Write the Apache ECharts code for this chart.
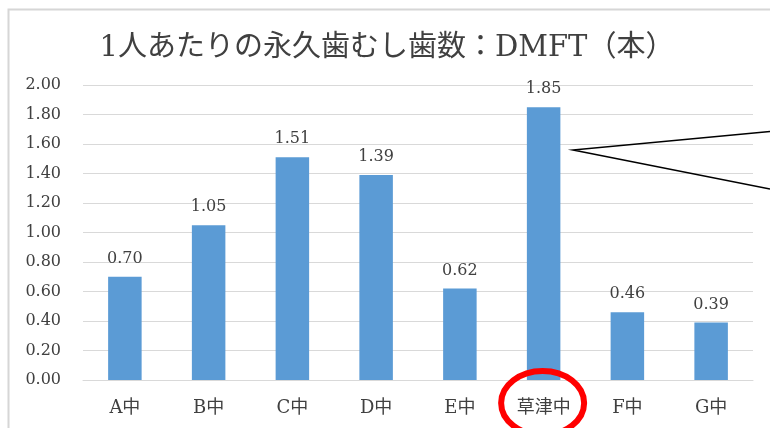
<!DOCTYPE html>
<html>
<head>
<meta charset="utf-8">
<script src="https://cdn.jsdelivr.net/npm/echarts@6/dist/echarts.min.js"></script>
<style>
html,body{margin:0;padding:0;background:#fff;}
#c{width:770px;height:428px;}
</style>
</head>
<body>
<div id="c"></div>
<script>
var titleText = '1人あたりの永久歯むし歯数：DMFT（本）';
var categories = ['A中', 'B中', 'C中', 'D中', 'E中', '草津中', 'F中', 'G中'];
var values = [0.70, 1.05, 1.51, 1.39, 0.62, 1.85, 0.46, 0.39];
var yTicks = [0, 0.2, 0.4, 0.6, 0.8, 1.0, 1.2, 1.4, 1.6, 1.8, 2.0];
var highlightCategory = '草津中';

var serif = "'DejaVu Serif', 'Noto Sans CJK JP', serif";
var chart = echarts.init(document.getElementById('c'), null, {renderer: 'canvas'});

var option = {
  backgroundColor: '#ffffff',
  animation: false,
  title: {
    text: titleText,
    left: 382,
    textAlign: 'center',
    top: 27,
    textStyle: {
      fontFamily: serif,
      fontSize: 29,
      fontWeight: 'normal',
      color: '#404040',
      lineHeight: 32
    }
  },
  grid: {
    left: 83,
    right: 17,
    top: 85,
    bottom: 48,
    containLabel: false,
    outerBoundsMode: 'none'
  },
  xAxis: {
    type: 'category',
    data: categories,
    axisLine: {show: true, lineStyle: {color: '#d9d9d9', width: 1}},
    axisTick: {show: false},
    axisLabel: {
      margin: 19,
      fontFamily: serif,
      fontSize: 18,
      color: '#404040'
    }
  },
  yAxis: {
    type: 'value',
    min: yTicks[0],
    max: yTicks[yTicks.length - 1],
    interval: 0.2,
    axisLine: {show: false},
    axisTick: {show: false},
    splitLine: {show: true, lineStyle: {color: '#d9d9d9', width: 1}},
    axisLabel: {
      margin: 22,
      fontFamily: serif,
      fontSize: 16,
      color: '#404040',
      formatter: function (v) { return v.toFixed(2); }
    }
  },
  series: [{
    type: 'bar',
    data: values,
    barWidth: '40%',
    itemStyle: {color: '#5B9BD5'},
    label: {
      show: true,
      position: 'top',
      distance: 10,
      fontFamily: serif,
      fontSize: 16,
      color: '#404040',
      formatter: function (p) { return p.value.toFixed(2); }
    }
  }]
};
chart.setOption(option);

var hx = chart.convertToPixel({xAxisIndex: 0}, highlightCategory);
chart.setOption({
  graphic: [
    {
      type: 'rect',
      silent: true,
      shape: {x: 8.5, y: 9.5, width: 900, height: 600},
      style: {fill: null, stroke: '#d6d6d6', lineWidth: 2},
      z: 100
    },
    {
      type: 'polyline',
      silent: true,
      shape: {points: [[770, 131.5], [573, 150], [770, 189]]},
      style: {fill: null, stroke: '#000000', lineWidth: 1.5},
      z: 100
    },
    {
      type: 'ellipse',
      silent: true,
      shape: {cx: hx - 1, cy: 403, rx: 41.5, ry: 32},
      style: {fill: null, stroke: '#ff0000', lineWidth: 6},
      z: 100
    }
  ]
});
</script>
</body>
</html>
